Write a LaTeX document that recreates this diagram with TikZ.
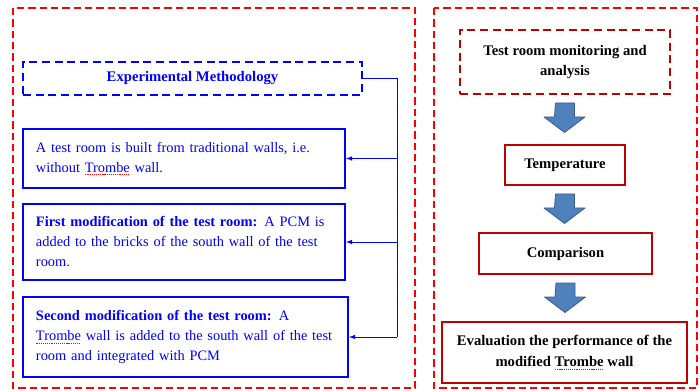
\documentclass[tikz,border=0pt]{standalone}
\usepackage{fontspec}
\setmainfont{Liberation Serif}
\usetikzlibrary{arrows}
\definecolor{darkred}{RGB}{192,0,0}
\definecolor{arrowblue}{RGB}{79,129,189}
\definecolor{arrowedge}{RGB}{56,93,138}
\newsavebox{\squigbox}
\newcommand{\squiggle}[2]{\leavevmode\sbox{\squigbox}{#2}\rlap{\textcolor{#1}{#2}}\raisebox{-2.2pt}{\color{red}\leaders\hbox to 1.6pt{\hss\rule{0.9pt}{0.45pt}\hss}\hskip\wd\squigbox}}

\begin{document}
\begin{tikzpicture}
[x=0.75pt,y=-0.75pt,
 frame/.style={draw=red,line width=1.5pt,dash pattern=on 5.5pt off 3pt},
 txt/.style={font={\fontsize{10.8}{15}\selectfont}},
 bluebox/.style={txt,draw=blue,line width=1.5pt,text=blue,align=left,inner sep=9.75pt},
 headbox/.style={txt,draw=blue,line width=1.5pt,text=blue,dash pattern=on 6pt off 3.5pt,font={\fontsize{11}{15}\selectfont\bfseries}},
 redbox/.style={txt,draw=darkred,line width=1.5pt,align=center,font={\fontsize{11}{15.5}\selectfont\bfseries}},
 link/.style={draw=blue,line width=0.6pt},
 blockfill/.style={fill=arrowblue,draw=arrowedge,line width=0.6pt,line join=round},
 blockarrow/.style={insert path={++(-9.5,0) -- ++(19,0) -- ++(0,14) -- ++(10.5,0) -- ++(-20.5,15.5) -- ++(-20.5,-15.5) -- ++(10.5,0) -- cycle}}]
\useasboundingbox (0,0) rectangle (700,392);

% two dashed frames
\draw[frame] (13,8) rectangle (415,388);
\draw[frame] (434,8) rectangle (697,388);

% left column
\node[headbox,minimum width=254.25pt,minimum height=24.75pt] (method) at (192.5,78.5) {Experimental Methodology};
\node[bluebox,text width=222pt,minimum width=241.5pt,minimum height=42.75pt] (built) at (184,158.5)
	{\mbox{A test room is built from traditional walls, i.e.}\\ without \squiggle{blue}{Trombe} wall.};
\node[bluebox,text width=222pt,minimum width=241.5pt,minimum height=54pt] (firstmod) at (184,242)
	{\mbox{\textbf{First modification of the test room:} A PCM is}\\ \mbox{added to the bricks of the south wall of the test}\\ room.};
\node[bluebox,text width=224.25pt,minimum width=243.75pt,minimum height=55.5pt] (secondmod) at (185.5,337)
	{\mbox{\textbf{Second modification of the test room:} A}\\ \mbox{\squiggle{blue}{Trombe} wall is added to the south wall of the test}\\ room and integrated with PCM};

\draw[link] (method.east) -- ++(34,0) coordinate (bus) -- (bus |- secondmod.east);
\foreach \b in {built,firstmod,secondmod}
	\draw[link,-latex] (bus |- \b.east) -- (\b.east);

% right column
\node[redbox,dash pattern=on 6pt off 3.5pt,minimum width=157.5pt,minimum height=48pt] (monitor) at (565,62)
	{Test room monitoring and\\ analysis};
\node[redbox,minimum width=90pt,minimum height=30pt] (temp) at (565,165) {Temperature};
\node[redbox,minimum width=129.75pt,minimum height=30.75pt] (compare) at (565.5,253.5) {Comparison};
\node[redbox,minimum width=183.75pt,minimum height=45.75pt] (evaluate) at (564.5,352.5)
	{Evaluation the performance of the\\ modified \squiggle{black}{Trombe} wall};

\foreach \b in {monitor,temp,compare}
	\draw[blockfill] ([yshift=-6pt]\b.south) [blockarrow];
\end{tikzpicture}
\end{document}
